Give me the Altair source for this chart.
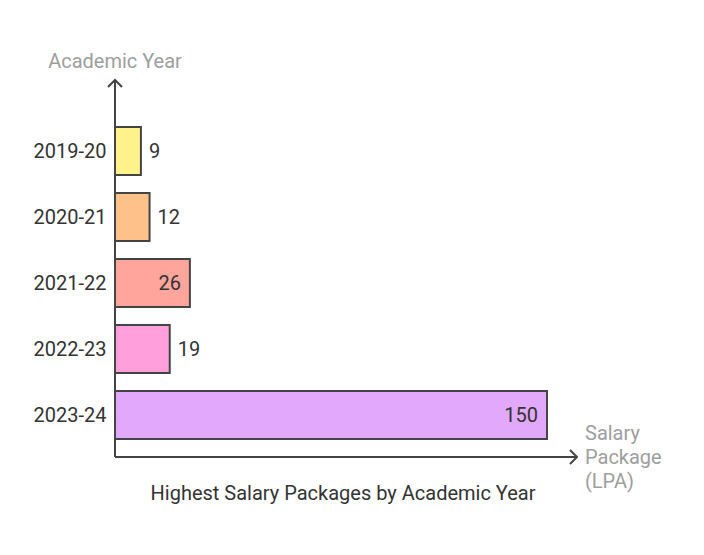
import altair as alt
import pandas as pd

years = ["2019-20", "2020-21", "2021-22", "2022-23", "2023-24"]
salary = [9, 12, 26, 19, 150]
palette = ["#FFF28A", "#FFC18A", "#FFA59C", "#FFA0DC", "#E2A8FC"]

y_title = "Academic Year"
x_title = ["Salary", "Package", "(LPA)"]
chart_title = "Highest Salary Packages by Academic Year"

df = pd.DataFrame({"year": years, "salary": salary})

W, H = 462, 312
FONT = "Roboto"
DARK = "#444444"
FS = 20

x_scale = alt.Scale(domain=[0, 160.42], nice=False, zero=True)
y_scale = alt.Scale(domain=years, paddingInner=0.2727, paddingOuter=0)

base = alt.Chart(df)

bars = base.mark_bar(stroke=DARK, strokeWidth=2, cornerRadius=0).encode(
    x=alt.X("salary:Q", scale=x_scale, axis=None),
    y=alt.Y("year:N", scale=y_scale,
            axis=alt.Axis(title=None, domain=False, ticks=False, labelPadding=9,
                          labelFontSize=FS, labelColor="#333333", labelFont=FONT,
                          labelFontWeight="normal", labelOffset=1)),
    color=alt.Color("year:N", scale=alt.Scale(domain=years, range=palette), legend=None),
)

labels_out = base.transform_filter("datum.salary < 20").mark_text(
    align="left", baseline="middle", dx=8, dy=1, fontSize=FS, color="#333333", font=FONT
).encode(x=alt.X("salary:Q", scale=x_scale), y=alt.Y("year:N", scale=y_scale), text="salary:Q")

labels_in = base.transform_filter("datum.salary >= 20").mark_text(
    align="right", baseline="middle", dx=-9, dy=1, fontSize=FS, color="#333333", font=FONT
).encode(x=alt.X("salary:Q", scale=x_scale), y=alt.Y("year:N", scale=y_scale), text="salary:Q")

one = pd.DataFrame({"a": [0]})
ybar = alt.Chart(one).mark_rule(color=DARK, strokeWidth=2).encode(
    x=alt.value(0), y=alt.value(-47), y2=alt.value(H + 18))
xbar = alt.Chart(one).mark_rule(color=DARK, strokeWidth=2).encode(
    x=alt.value(0), x2=alt.value(W), y=alt.value(H + 18))
up_arrow = alt.Chart(one).mark_point(
    shape="M-1,1L0,0L1,1", size=196, filled=False, stroke=DARK, strokeWidth=2, opacity=1
).encode(x=alt.value(0), y=alt.value(-47))
right_arrow = alt.Chart(one).mark_point(
    shape="M-1,-1L0,0L-1,1", size=196, filled=False, stroke=DARK, strokeWidth=2, opacity=1
).encode(x=alt.value(W), y=alt.value(H + 18))

ytitle = alt.Chart(pd.DataFrame({"t": [y_title]})).mark_text(
    align="center", baseline="middle", fontSize=FS, color="#9E9E9E", font=FONT
).encode(x=alt.value(0), y=alt.value(-65), text="t:N")
xtitle = alt.Chart(pd.DataFrame({"t": [x_title]})).mark_text(
    align="left", baseline="alphabetic", fontSize=FS, color="#9E9E9E", font=FONT,
    lineHeight=24
).encode(x=alt.value(470), y=alt.value(313), text="t")
ctitle = alt.Chart(pd.DataFrame({"t": [chart_title]})).mark_text(
    align="center", baseline="middle", fontSize=FS, color="#333333", font=FONT
).encode(x=alt.value(228), y=alt.value(367), text="t:N")

chart = alt.layer(
    bars, labels_out, labels_in, ybar, xbar, up_arrow, right_arrow, ytitle, xtitle, ctitle
).properties(
    width=W, height=H,
    background="white",
    autosize=alt.AutoSizeParams(type="none"),
    padding={"left": 115, "top": 127, "right": 704 - 115 - W, "bottom": 555 - 127 - H},
).configure_view(stroke=None, strokeWidth=0)

chart.save("out.html", embed_options={"renderer": "svg", "actions": False})
